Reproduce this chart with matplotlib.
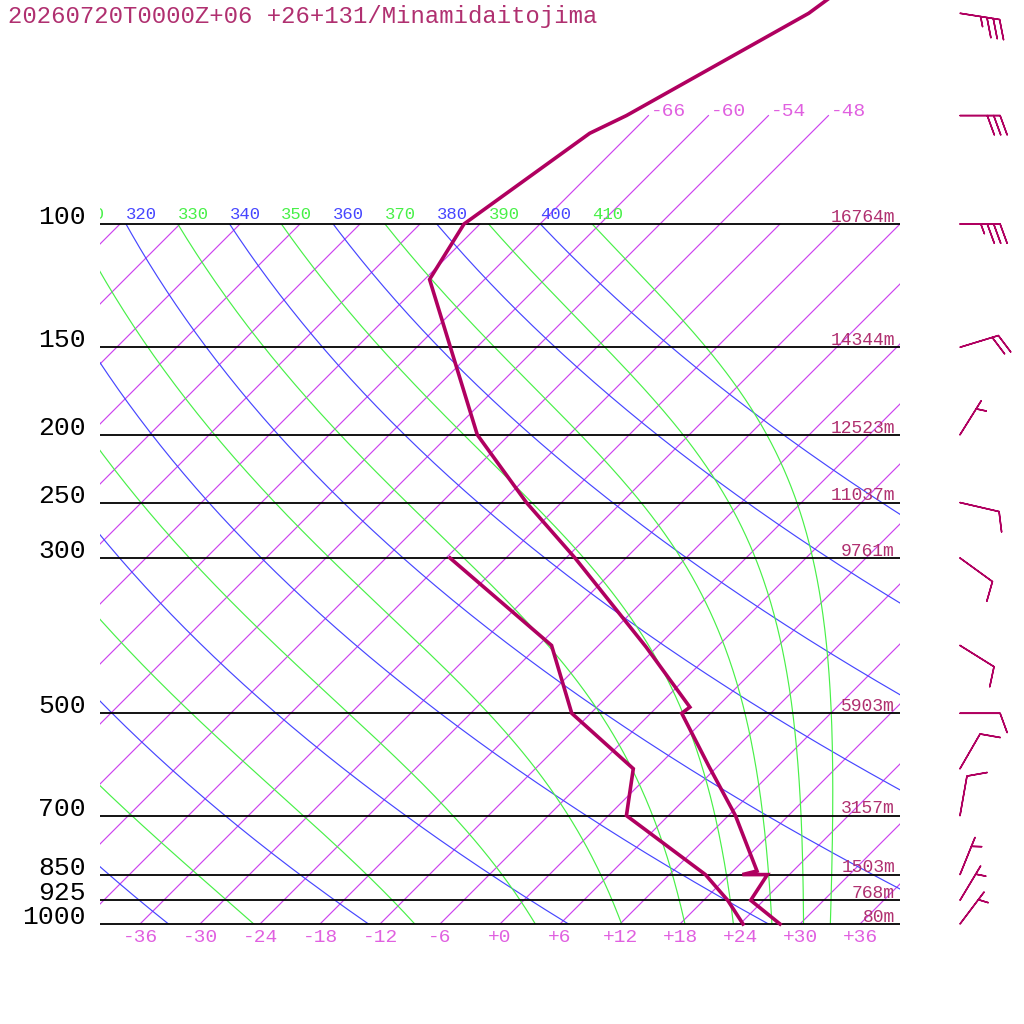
import numpy as np
import matplotlib.pyplot as plt
from matplotlib.patches import Rectangle

# sounding: temperature profile (hPa, degC)
temp_p = [1000, 925, 850, 850, 840, 700, 595, 500, 490, 402, 300, 250, 200, 120, 100, 74.2, 70, 50, 30]
temp_t = [28.0, 22.7, 21.8, 19.3, 20.4, 12.7, 5.1, -2.9, -2.7, -13.1, -29.1, -39.5, -51.2, -71.5, -73.6, -70.1, -68.2, -60.2, -54.6]

# dewpoint profile
dew_p = [1000, 925, 850, 700, 600, 500, 400, 300]
dew_t = [24.3, 20.4, 15.6, 1.8, -2.2, -13.9, -22.7, -41.6]

# standard levels and heights
levels = [100, 150, 200, 250, 300, 500, 700, 850, 925, 1000]
heights = ['16764m', '14344m', '12523m', '11037m', '9761m', '5903m', '3157m', '1503m', '768m', '80m']

# winds: direction (deg from), speed (kt)
wind_p = [50, 70, 100, 150, 200, 250, 300, 400, 500, 600, 700, 850, 925, 1000]
wind_dir = [99, 90, 90, 73, 32, 103, 126, 122, 90, 30, 10, 22, 31, 37]
wind_spd = [35, 30, 35, 20, 5, 10, 10, 10, 10, 10, 10, 5, 5, 5]

# background lines
isotherms = list(range(-108, 37, 6))
long_isotherms = [-66, -60, -54, -48]
axis_temps = list(range(-36, 37, 6))
dry_thetas = [240, 260, 280, 300, 320, 340, 360, 380, 400]
moist_thetas = [250, 270, 290, 310, 330, 350, 370, 390, 410]
dry_labels = [320, 340, 360, 380, 400]
moist_labels = [310, 330, 350, 370, 390, 410]

SKEW = 70.0
KAPPA = 0.2857

PURPLE = '#cc44ee'
BLUE = '#4646ff'
GREEN = '#48f048'
PINK = '#e060e0'
DARK = '#b00060'
HTXT = '#b03070'
MONO = 'Liberation Mono'


def skew_x(t, p):
    return np.asarray(t, dtype=float) + SKEW * np.log10(1000.0 / np.asarray(p, dtype=float))


def dtdp(t, p):
    es = 6.112 * np.exp(17.67 * (t - 273.15) / (t - 29.65))
    rs = 0.622 * es / (p - es)
    num = (287.04 * t + 2.501e6 * rs) / p
    den = 1005.7 + (2.501e6 ** 2 * rs * 0.622) / (287.04 * t ** 2)
    return num / den


def moist_line(theta):
    ps = np.geomspace(100, 1000, 241)
    t = theta * 0.1 ** KAPPA
    out = [t]
    for p0, p1 in zip(ps[:-1], ps[1:]):
        h = p1 - p0
        k1 = dtdp(t, p0)
        k2 = dtdp(t + h * k1 / 2, p0 + h / 2)
        k3 = dtdp(t + h * k2 / 2, p0 + h / 2)
        k4 = dtdp(t + h * k3, p1)
        t = t + h * (k1 + 2 * k2 + 2 * k3 + k4) / 6
        out.append(t)
    return ps, np.array(out) - 273.15


fig = plt.figure(figsize=(10.24, 10.24), dpi=100)
ax = fig.add_axes([0, 0, 1, 1])
ax.set_yscale('log')
ax.set_xlim(-50, 52.4)
ax.set_ylim(1000 * 10 ** (100 / 700), 1000 * 10 ** (-924 / 700))
ax.axis('off')

box = Rectangle((-40, 100), 80, 900, transform=ax.transData)
box_hi = Rectangle((-40, 60), 80, 940, transform=ax.transData)

# isotherms
for t in isotherms:
    ptop = 70 if t in long_isotherms else 100
    ln, = ax.plot(skew_x([t, t], [1000, ptop]), [1000, ptop], color=PURPLE, lw=0.85)
    ln.set_clip_path(box_hi)
for t in long_isotherms:
    ax.text(skew_x(t, 70) + 0.2, 70, f'{t:+d}', color=PINK, fontsize=14,
            family=MONO, ha='left', va='baseline')

# dry adiabats
pp = np.geomspace(1000, 100, 200)
for th in dry_thetas:
    tt = th * (pp / 1000) ** KAPPA - 273.15
    ln, = ax.plot(skew_x(tt, pp), pp, color=BLUE, lw=0.85)
    ln.set_clip_path(box)

# moist adiabats
for th in moist_thetas:
    mp, mt = moist_line(th)
    ln, = ax.plot(skew_x(mt, mp), mp, color=GREEN, lw=0.85)
    ln.set_clip_path(box)

# theta labels along 100 hPa (clipped at the diagram edge like the original)
for th in dry_labels + moist_labels:
    col = BLUE if th in dry_labels else GREEN
    x0 = skew_x(th * 0.1 ** KAPPA - 273.15, 100)
    tx = ax.text(x0, 98.5, str(th), color=col, fontsize=12.4, family=MONO,
                 ha='left', va='baseline', clip_on=True)
    tx.set_clip_path(box_hi)

# pressure levels
ax.hlines(levels, -40, 40, color='black', lw=1.3)
for p, h in zip(levels, heights):
    ax.text(-41.4, p, str(p), color='black', fontsize=19, family=MONO,
            ha='right', va='baseline')
    ax.text(39.5, p * 0.993, h, color=HTXT, fontsize=13, family=MONO,
            ha='right', va='baseline')

# temperature axis labels
for t in axis_temps:
    ax.text(t, 1043.7, f'{t:+d}', color=PINK, fontsize=14, family=MONO,
            ha='center', va='center')

# profiles
ax.plot(skew_x(temp_t, temp_p), temp_p, color=DARK, lw=2.6, solid_joinstyle='miter')
ax.plot(skew_x(dew_t, dew_p), dew_p, color=DARK, lw=2.6, solid_joinstyle='miter')

# wind barbs
wd = np.radians(wind_dir)
spd = np.array(wind_spd, dtype=float)
u = -spd * np.sin(wd)
v = -spd * np.cos(wd)
ax.barbs(np.full(len(wind_p), 46.0), wind_p, u, v, length=7.6, color=DARK,
         linewidth=1.1, sizes=dict(spacing=0.16, height=0.48, width=0.35))

fig.text(8 / 1024, 1 - 17 / 1024, '20260720T0000Z+06 +26+131/Minamidaitojima',
         color=HTXT, fontsize=17.2, family=MONO, ha='left', va='center')

fig.savefig('out.png', dpi=100, facecolor='white')
